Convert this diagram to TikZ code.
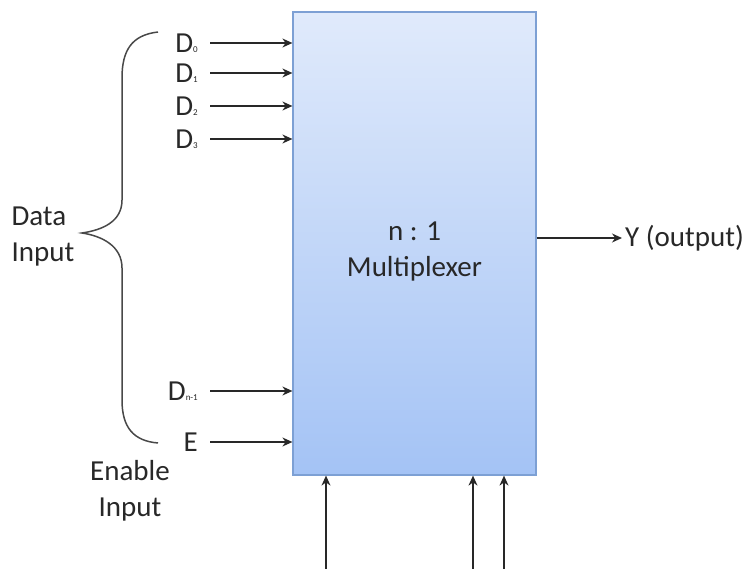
\documentclass[tikz,border=0pt]{standalone}
\usepackage{fontspec}
\setmainfont{Carlito}
\usetikzlibrary{arrows.meta,positioning}
\definecolor{inkgray}{RGB}{40,40,40}
\definecolor{muxtop}{RGB}{224,234,251}
\definecolor{muxbottom}{RGB}{164,195,245}
\definecolor{muxline}{RGB}{125,160,212}
\newcommand{\dsub}[1]{{\fontsize{9bp}{9bp}\selectfont#1}}

\begin{document}
\begin{tikzpicture}[
    x=1bp, y=-1bp,
    font=\fontsize{29bp}{36bp}\selectfont,
    every node/.style={text=inkgray},
    mux/.style={draw=muxline, line width=1.2bp, top color=muxtop, bottom color=muxbottom, minimum width=243bp, minimum height=463bp, align=center, inner sep=0pt},
    inlbl/.style={anchor=east, inner xsep=12bp, inner ysep=0pt},
    arrow/.style={-{Stealth[length=10bp,width=9bp]}, line width=1.5bp, inkgray}
]
    \useasboundingbox (0,0) rectangle (755,569);

    \node[mux] (mux) at (414.5,243.5) {\\[-2bp]n : 1\\Multiplexer};

    % data and enable inputs
    \node[inlbl] (d0) at (210,43) {D\dsub{0}};
    \node[inlbl] (d1) at (210,73) {D\dsub{1}};
    \node[inlbl] (d2) at (210,106) {D\dsub{2}};
    \node[inlbl] (d3) at (210,139) {D\dsub{3}};
    \node[inlbl] (dn) at (210,391) {D\dsub{n-1}};
    \node[inlbl] (en) at (210,442) {E};

    \foreach \i in {d0,d1,d2,d3,dn,en}
        \draw[arrow] (\i.east) -- (mux.west |- \i.east);

    % brace round the inputs
    \draw[inkgray!85, line width=1.5bp]
        (158,32) .. controls (132,35) and (122,50) .. (122,78) -- (122,200)
        .. controls (122,222) and (102,230) .. (82,233)
        .. controls (102,236) and (122,246) .. (122,268) -- (122,400)
        .. controls (122,428) and (134,441) .. (158,443);

    \node[anchor=west, align=left] (data) at (8,237) {Data\\Input};
    \node[align=center] (enable) at (130,491) {Enable\\Input};

    % output
    \node[anchor=west, inner xsep=3bp] (yout) at (622,238) {Y (output)};
    \draw[arrow] (mux.east |- yout.west) -- (yout.west);

    % select lines
    \coordinate (s1) at (326,569);
    \coordinate (s2) at (473,569);
    \coordinate (s3) at (504,569);
    \foreach \s in {s1,s2,s3}
        \draw[arrow] (\s) -- (mux.south -| \s);
\end{tikzpicture}
\end{document}
